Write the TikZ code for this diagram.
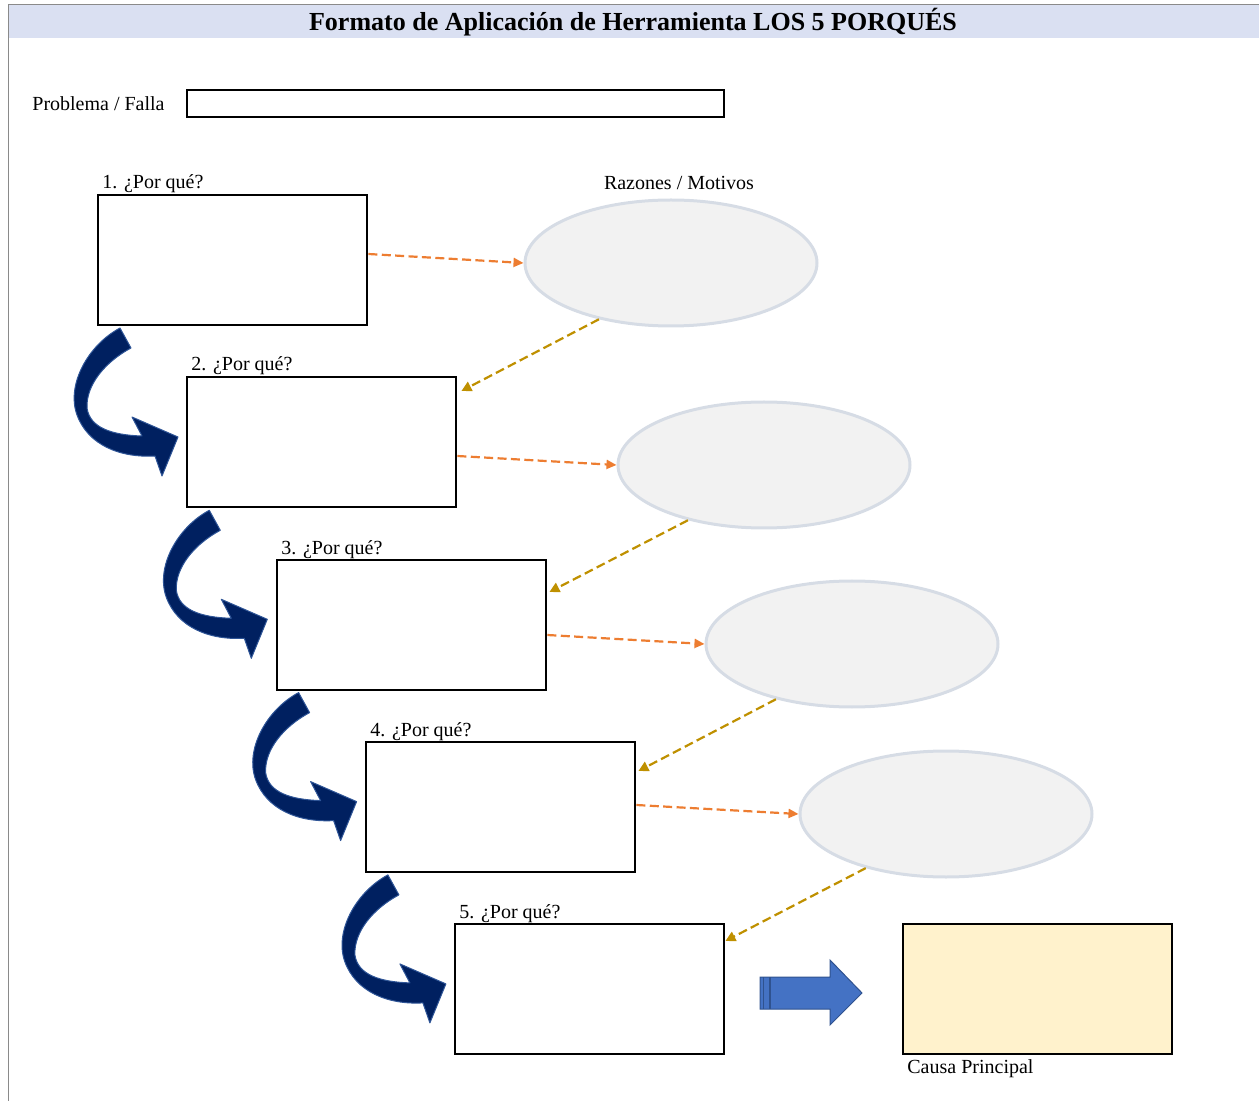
\documentclass[tikz,border=0pt]{standalone}
\usepackage{fontspec}
\setmainfont{Liberation Serif}
\usetikzlibrary{shapes.geometric,arrows.meta,calc}
\definecolor{titlebg}{HTML}{DAE0F2}
\definecolor{framegray}{HTML}{8A8A8A}
\definecolor{ellfill}{HTML}{F2F2F2}
\definecolor{elledge}{HTML}{D6DCE5}
\definecolor{orangeln}{HTML}{ED7D31}
\definecolor{goldln}{HTML}{BF9000}
\definecolor{navyarr}{HTML}{002060}
\definecolor{navyedge}{HTML}{2F5597}
\definecolor{bluearr}{HTML}{4472C4}
\definecolor{blueedge}{HTML}{2F528F}
\definecolor{causafill}{HTML}{FFF2CC}
\begin{document}
\begin{tikzpicture}[x=0.5pt,y=-0.5pt,
  whybox/.style={draw=black,line width=1.2pt,fill=white,minimum width=134.5pt,minimum height=65pt,inner sep=0,anchor=north west},
  reason/.style={ellipse,draw=elledge,line width=1.5pt,fill=ellfill,minimum width=146pt,minimum height=63pt,inner sep=0},
  toreason/.style={draw=orangeln,line width=1.1pt,dash pattern=on 4.5pt off 2.2pt,-{Triangle[length=5pt,width=4.5pt]}},
  toback/.style={draw=goldln,line width=1.1pt,dash pattern=on 4.5pt off 2.2pt,-{Triangle[length=5pt,width=5pt]}},
  lbl/.style={font=\fontsize{10}{12}\selectfont,inner sep=0},
  curvearr/.style={fill=navyarr,draw=navyedge,line width=0.5pt,line join=round}
]
\useasboundingbox (0,0) rectangle (1259,1101);
% title bar and frame
\fill[titlebg] (8,5) rectangle (1259,38);
\draw[framegray,line width=0.8pt] (8.5,1101) -- (8.5,4.5) -- (1259,4.5);
\node[font=\fontsize{13}{15}\selectfont\bfseries,inner sep=0] (title) at (633,22) {Formato de Aplicación de Herramienta LOS 5 PORQUÉS};

% problem
\node[lbl,anchor=west] (problbl) at (32,104) {Problema / Falla};
\node[draw=black,line width=1.2pt,minimum width=268.5pt,minimum height=13.5pt,inner sep=0,anchor=north west] (prob) at (186,89) {};

% why boxes
\node[whybox] (b1) at (97,194) {};
\node[whybox] (b2) at (186,376) {};
\node[whybox] (b3) at (276,559) {};
\node[whybox] (b4) at (365,741) {};
\node[whybox] (b5) at (454,923) {};
\foreach \i in {1,...,5}{
  \node[lbl,anchor=base west] (l\i) at ($(b\i.north west)+(5,-5)$) {\i. ¿Por qué?};
}

% reasons
\node[lbl] (razones) at (679,183) {Razones / Motivos};
\node[reason] (e1) at (671,263) {};
\node[reason] (e2) at (764,465) {};
\node[reason] (e3) at (852,644) {};
\node[reason] (e4) at (946,814) {};

% dashed connectors
\foreach \i/\a/\dx/\dy [count=\j from 2] in {1/218/4/15, 2/216/2/33, 3/216/2/30, 4/214/0/18}{
  \draw[toreason] ($(b\i.east |- e\i.west)+(0,-9)$) -- (e\i.west);
  \draw[toback] (e\i.\a) -- ($(b\j.north east)+(\dx,\dy)$);
}

% curved arrows
\foreach \k in {0,1,2,3}{
  \path[curvearr,shift={(89.3*\k,182.3*\k)}]
    (131,348) -- (120,328)
    .. controls (88,345) and (66,385) .. (77,415)
    .. controls (88,445) and (120,458) .. (155,456)
    -- (162,476) -- (178,437) -- (132,417) -- (142,436)
    .. controls (112,435) and (90,428) .. (87,408)
    .. controls (86,385) and (105,362) .. (131,348) -- cycle;
}

% causa principal
\node[whybox,fill=causafill] (causa) at (902,923) {};
\node[lbl,anchor=west] (causalbl) at (907,1069) {Causa Principal};

% block arrow
\path[fill=bluearr,draw=blueedge,line width=0.5pt,line join=miter]
  (760,977) -- (830,977) -- (830,960) -- (862,993) -- (830,1025) -- (830,1009) -- (760,1009) -- cycle;
\draw[blueedge,line width=0.6pt] (763.5,977) -- (763.5,1009) (770,977) -- (770,1009);
\end{tikzpicture}
\end{document}
